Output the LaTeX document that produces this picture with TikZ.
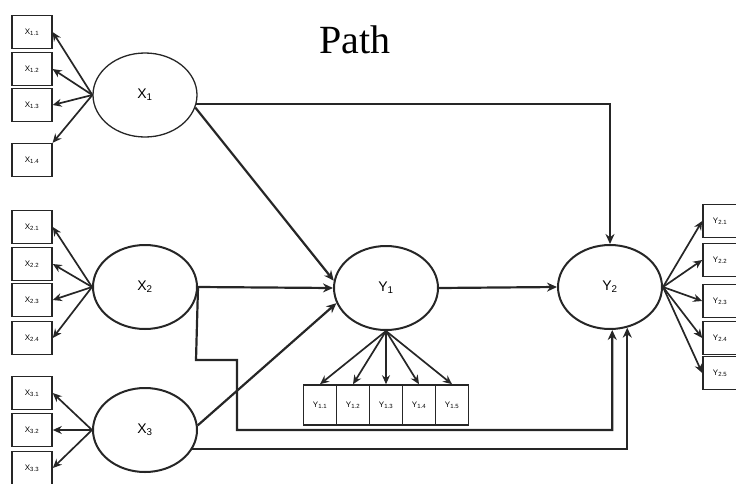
\documentclass[tikz,border=0pt]{standalone}
\usepackage{fontspec}
\setmainfont{Liberation Serif}
\newfontfamily\labfont{Liberation Sans}
\usetikzlibrary{shapes.geometric,arrows.meta}
\tikzset{
  lat/.style={draw=black!85,line width=2pt,ellipse,minimum width=104pt,minimum height=84pt,inner sep=0pt,font=\labfont\fontsize{14}{16}\selectfont},
  ind/.style={draw=black!85,line width=1.6pt,rectangle,minimum width=40pt,minimum height=33pt,inner sep=0pt,font=\labfont\fontsize{8}{9}\selectfont},
  indv/.style={ind,minimum width=33pt,minimum height=40pt},
  arr/.style={draw=black!85,line width=2.2pt,-{Stealth[length=10pt,width=9pt]}},
  larr/.style={draw=black!85,line width=1.7pt,-{Stealth[length=9pt,width=8pt]}}
}
\begin{document}
\begin{tikzpicture}[x=1pt,y=-1pt]
\useasboundingbox (0,0) rectangle (736,483);
\node[font=\fontsize{40}{44}\selectfont] (title) at (355,40) {Path};
% latent variables
\node[lat,line width=1.3pt] (x1) at (145,95) {X\textsubscript{1}};
\node[lat] (x2) at (145,287) {X\textsubscript{2}};
\node[lat] (x3) at (145,430) {X\textsubscript{3}};
\node[lat] (y1) at (386,288) {Y\textsubscript{1}};
\node[lat] (y2) at (610,287) {Y\textsubscript{2}};
% X1 indicators
\node[ind,line width=1.2pt] (x11) at (32,32) {X\textsubscript{1.1}};
\node[ind,line width=1.2pt] (x12) at (32,69) {X\textsubscript{1.2}};
\node[ind,line width=1.2pt] (x13) at (32,105) {X\textsubscript{1.3}};
\node[ind,line width=1.2pt] (x14) at (32,160) {X\textsubscript{1.4}};
% X2 indicators
\node[ind] (x21) at (32,227) {X\textsubscript{2.1}};
\node[ind] (x22) at (32,264) {X\textsubscript{2.2}};
\node[ind] (x23) at (32,300) {X\textsubscript{2.3}};
\node[ind] (x24) at (32,338) {X\textsubscript{2.4}};
% X3 indicators
\node[ind] (x31) at (32,393) {X\textsubscript{3.1}};
\node[ind] (x32) at (32,430) {X\textsubscript{3.2}};
\node[ind] (x33) at (32,468) {X\textsubscript{3.3}};
% Y1 indicators
\node[indv] (y11) at (320,405) {Y\textsubscript{1.1}};
\node[indv] (y12) at (353,405) {Y\textsubscript{1.2}};
\node[indv] (y13) at (386,405) {Y\textsubscript{1.3}};
\node[indv] (y14) at (419,405) {Y\textsubscript{1.4}};
\node[indv] (y15) at (452,405) {Y\textsubscript{1.5}};
% Y2 indicators
\node[ind,minimum width=34pt] (y21) at (720,221) {Y\textsubscript{2.1}};
\node[ind,minimum width=34pt] (y22) at (720,260) {Y\textsubscript{2.2}};
\node[ind,minimum width=34pt] (y23) at (720,301) {Y\textsubscript{2.3}};
\node[ind,minimum width=34pt] (y24) at (720,338) {Y\textsubscript{2.4}};
\node[ind,minimum width=34pt] (y25) at (720,373) {Y\textsubscript{2.5}};
% measurement arrows
\foreach \b in {x11,x12,x13} \draw[larr] (x1.west) -- (\b.east);
\draw[larr] (x1.west) -- (x14.north east);
\foreach \b in {x21,x22,x23,x24} \draw[larr] (x2.west) -- (\b.east);
\foreach \b in {x31,x32,x33} \draw[larr] (x3.west) -- (\b.east);
\foreach \b in {y11,y12,y13,y14,y15} \draw[larr] (y1.south) -- (\b.north);
\foreach \b in {y21,y22,y23,y24,y25} \draw[larr] (y2.east) -- (\b.west);
% structural paths
\draw[arr] (x1.-10) -| (y2.north);
\draw[arr] (x1.-14) -- (y1.172);
\draw[arr] (x2.east) -- (y1.west);
\draw[arr] (x3.5) -- (y1.197);
\draw[arr] (y1.east) -- (y2.west);
\coordinate (k1) at (196,360);
\coordinate (k2) at (237,360);
\coordinate (k3) at (237,430);
\draw[arr] (x2.east) -- (k1) -- (k2) -- (k3) -| (y2.-87);
\draw[arr] (x3.-22) -| (y2.-67);
\end{tikzpicture}
\end{document}
